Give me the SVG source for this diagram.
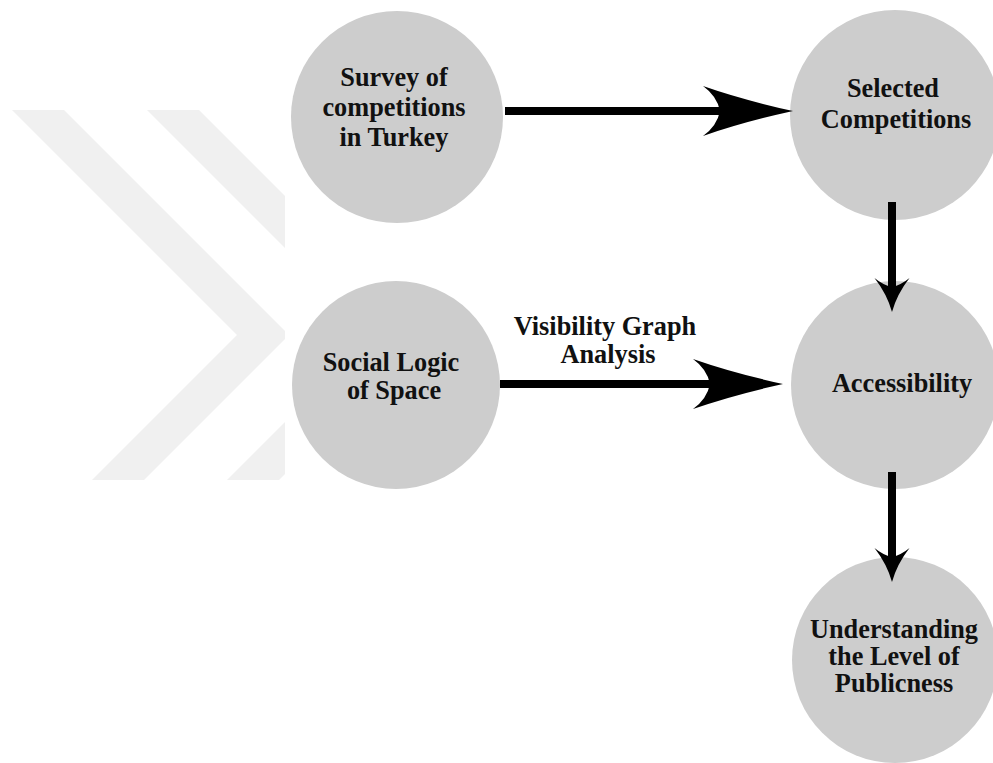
<svg xmlns="http://www.w3.org/2000/svg" width="993" height="763" viewBox="0 0 993 763">
  <style>
    .node { fill: #cdcdcd; }
    .label { font-family: "Liberation Serif", "Times New Roman", serif; font-weight: bold; font-size: 26.3px; fill: #111; text-anchor: middle; }
    .shaft { stroke: #000; stroke-width: 8; fill: none; }
    .head { fill: #000; }
    .wm { fill: #f0f0f0; }
  </style>
  <defs>
    <clipPath id="wmclip"><rect x="0" y="100" width="285" height="390"/></clipPath>
    <path id="bighead" d="M0,0 Q-50,-11 -90,-25 Q-76,-15 -73,0 Q-76,15 -90,25 Q-50,11 0,0 Z"/>
    <path id="smallhead" d="M0,0 Q-18,-5 -34,-17.5 Q-27,-9 -25,0 Q-27,9 -34,17.5 Q-18,5 0,0 Z"/>
  </defs>

  <g id="watermark" clip-path="url(#wmclip)">
    <polygon class="wm" points="12,110 64,110 289,335 144,480 92,480 237,335"/>
    <polygon class="wm" points="147,110 199,110 424,335 279,480 227,480 372,335"/>
  </g>

  <g id="node-survey">
    <circle class="node" cx="397" cy="117" r="106"/>
    <text class="label" x="394" y="86">Survey of</text>
    <text class="label" x="394" y="116">competitions</text>
    <text class="label" x="394" y="146">in Turkey</text>
  </g>
  <g id="node-selected">
    <circle class="node" cx="895" cy="115" r="105"/>
    <text class="label" x="893" y="97">Selected</text>
    <text class="label" x="896" y="128">Competitions</text>
  </g>
  <g id="node-social">
    <circle class="node" cx="396" cy="385" r="104"/>
    <text class="label" x="391" y="371">Social Logic</text>
    <text class="label" x="394" y="399">of Space</text>
  </g>
  <g id="node-accessibility">
    <circle class="node" cx="895" cy="385" r="104"/>
    <text class="label" x="902" y="392">Accessibility</text>
  </g>
  <g id="node-understanding">
    <circle class="node" cx="895" cy="660" r="103"/>
    <text class="label" x="894" y="638">Understanding</text>
    <text class="label" x="894" y="665">the Level of</text>
    <text class="label" x="894" y="692">Publicness</text>
  </g>

  <g id="connectors">
    <line class="shaft" x1="505" y1="111" x2="730" y2="111"/>
    <use href="#bighead" class="head" transform="translate(793,111)"/>

    <line class="shaft" x1="500" y1="384" x2="720" y2="384"/>
    <use href="#bighead" class="head" transform="translate(783,384)"/>
    <text class="label" x="605" y="335">Visibility Graph</text>
    <text class="label" x="608" y="363">Analysis</text>

    <line class="shaft" x1="892" y1="202" x2="892" y2="292"/>
    <use href="#smallhead" class="head" transform="translate(892,312) rotate(90)"/>

    <line class="shaft" x1="892" y1="472" x2="892" y2="562"/>
    <use href="#smallhead" class="head" transform="translate(892,582) rotate(90)"/>
  </g>
</svg>
